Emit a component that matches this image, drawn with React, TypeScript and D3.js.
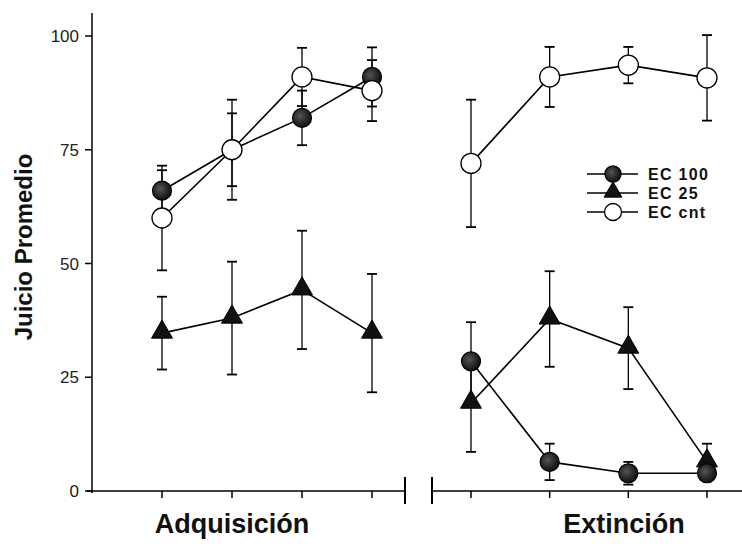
import React from "react";
import * as d3 from "d3";

const groups = ["Adquisición", "Extinción"];
const yTicks = [0, 25, 50, 75, 100];

// values per group: [Adquisición x4, Extinción x4]
const ec100Acq = [66, 75, 82, 91];
const ec100AcqErr = [4.5, 8, 6, 6.5];
const ec100Ext = [28.5, 6.4, 3.9, 3.9];
const ec100ExtErr = [8.6, 4, 2.5, 0];

const ec25Acq = [34.7, 38, 44.2, 34.7];
const ec25AcqErr = [8, 12.4, 13, 13];
const ec25Ext = [19.3, 37.8, 31.4, 6.4];
const ec25ExtErr = [10.7, 10.5, 9, 4];

const cntAcq = [60, 75, 91, 88];
const cntAcqErr = [11.5, 11, 6.4, 6.7];
const cntExt = [72, 91, 93.6, 90.8];
const cntExtErr = [14, 6.6, 4, 9.4];

const legendLabels = ["EC 100", "EC 25", "EC cnt"];

const W = 742;
const H = 547;

export default function App() {
  const y = d3.scaleLinear().domain([0, 100]).range([491, 36]);
  const xAcq = d3.scaleLinear().domain([0, 3]).range([162, 372]);
  const xExt = d3.scaleLinear().domain([0, 3]).range([471, 707]);
  const idx = [0, 1, 2, 3];

  const series = [
    { name: "ec25", acq: ec25Acq, acqErr: ec25AcqErr, ext: ec25Ext, extErr: ec25ExtErr, marker: "tri" },
    { name: "ec100", acq: ec100Acq, acqErr: ec100AcqErr, ext: ec100Ext, extErr: ec100ExtErr, marker: "dot" },
    { name: "cnt", acq: cntAcq, acqErr: cntAcqErr, ext: cntExt, extErr: cntExtErr, marker: "open" },
  ];

  const line = d3.line<[number, number]>().x((d) => d[0]).y((d) => d[1]);

  const marker = (type: string, cx: number, cy: number, key: string, scale = 1) => {
    if (type === "tri") {
      const tri = d3.symbol().type(d3.symbolTriangle).size(190 * scale * scale)();
      return <path key={key} d={tri || ""} transform={`translate(${cx},${cy - 1})`} fill="#111" stroke="#000" strokeWidth={1} />;
    }
    if (type === "dot") {
      return <circle key={key} cx={cx} cy={cy} r={9.5 * scale} fill="url(#speckle)" stroke="#000" strokeWidth={1.2} />;
    }
    return <circle key={key} cx={cx} cy={cy} r={10 * scale} fill="#fff" stroke="#000" strokeWidth={1.3} />;
  };

  const errBar = (cx: number, v: number, e: number, key: string) => {
    if (!e) return null;
    const y1 = y(v + e);
    const y2 = y(v - e);
    return (
      <g key={key} stroke="#000" strokeWidth={1.3}>
        <line x1={cx} x2={cx} y1={y1} y2={y2} />
        <line x1={cx - 5} x2={cx + 5} y1={y1} y2={y1} strokeWidth={1.8} />
        <line x1={cx - 5} x2={cx + 5} y1={y2} y2={y2} strokeWidth={1.8} />
      </g>
    );
  };

  return (
    <svg width={W} height={H} style={{ position: "absolute", left: 0, top: 0, background: "#fff" }}
      fontFamily="'Liberation Sans', Arial, sans-serif">
      <defs>
        <radialGradient id="speckle" cx="40%" cy="40%" r="60%">
          <stop offset="0%" stopColor="#555" />
          <stop offset="60%" stopColor="#2a2a2a" />
          <stop offset="100%" stopColor="#111" />
        </radialGradient>
      </defs>
      <rect x={0} y={0} width={W} height={H} fill="#fff" />

      {/* Y axis */}
      <line x1={92} x2={92} y1={13} y2={493} stroke="#000" strokeWidth={1.5} />
      {yTicks.map((t) => (
        <g key={t}>
          <line x1={85} x2={92} y1={y(t)} y2={y(t)} stroke="#000" strokeWidth={1.5} />
          <text x={79} y={y(t) + 6} textAnchor="end" fontSize={17} fill="#222">{t}</text>
        </g>
      ))}
      <text transform={`translate(32,247) rotate(-90)`} textAnchor="middle" fontSize={24} fontWeight="bold" fill="#111">
        Juicio Promedio
      </text>

      {/* X axis, left segment */}
      <line x1={87} x2={405} y1={491} y2={491} stroke="#000" strokeWidth={1.5} />
      {idx.map((i) => (
        <line key={"ta" + i} x1={xAcq(i)} x2={xAcq(i)} y1={491} y2={498} stroke="#000" strokeWidth={1.5} />
      ))}
      <line x1={405} x2={405} y1={477} y2={504} stroke="#000" strokeWidth={2} />
      {/* X axis, right segment */}
      <line x1={432} x2={432} y1={477} y2={504} stroke="#000" strokeWidth={2} />
      <line x1={432} x2={742} y1={491} y2={491} stroke="#000" strokeWidth={1.5} />
      {idx.map((i) => (
        <line key={"te" + i} x1={xExt(i)} x2={xExt(i)} y1={491} y2={498} stroke="#000" strokeWidth={1.5} />
      ))}

      <text x={232} y={533} textAnchor="middle" fontSize={27} fontWeight="bold" fill="#111">{groups[0]}</text>
      <text x={624} y={533} textAnchor="middle" fontSize={27} fontWeight="bold" fill="#111">{groups[1]}</text>

      {/* error bars */}
      {series.map((s) => (
        <g key={"eb" + s.name}>
          {idx.map((i) => errBar(xAcq(i), s.acq[i], s.acqErr[i], "a" + i))}
          {idx.map((i) => errBar(xExt(i), s.ext[i], s.extErr[i], "e" + i))}
        </g>
      ))}

      {/* lines */}
      {series.map((s) => (
        <g key={"ln" + s.name} fill="none" stroke="#000" strokeWidth={1.6}>
          <path d={line(idx.map((i) => [xAcq(i), y(s.acq[i])] as [number, number])) || ""} />
          <path d={line(idx.map((i) => [xExt(i), y(s.ext[i])] as [number, number])) || ""} />
        </g>
      ))}

      {/* markers */}
      {series.map((s) => (
        <g key={"mk" + s.name}>
          {idx.map((i) => marker(s.marker, xAcq(i), y(s.acq[i]), "a" + i))}
          {idx.map((i) => marker(s.marker, xExt(i), y(s.ext[i]), "e" + i))}
        </g>
      ))}

      {/* legend */}
      {["dot", "tri", "open"].map((m, i) => {
        const ly = 174 + i * 19;
        return (
          <g key={"lg" + i}>
            <line x1={587} x2={638} y1={ly} y2={ly} stroke="#000" strokeWidth={1.5} />
            {marker(m, 613, ly, "lm" + i, 0.85)}
            <text x={648} y={ly + 6} fontSize={16} letterSpacing={1.3} fontWeight="bold" fill="#111">{legendLabels[i]}</text>
          </g>
        );
      })}
    </svg>
  );
}
